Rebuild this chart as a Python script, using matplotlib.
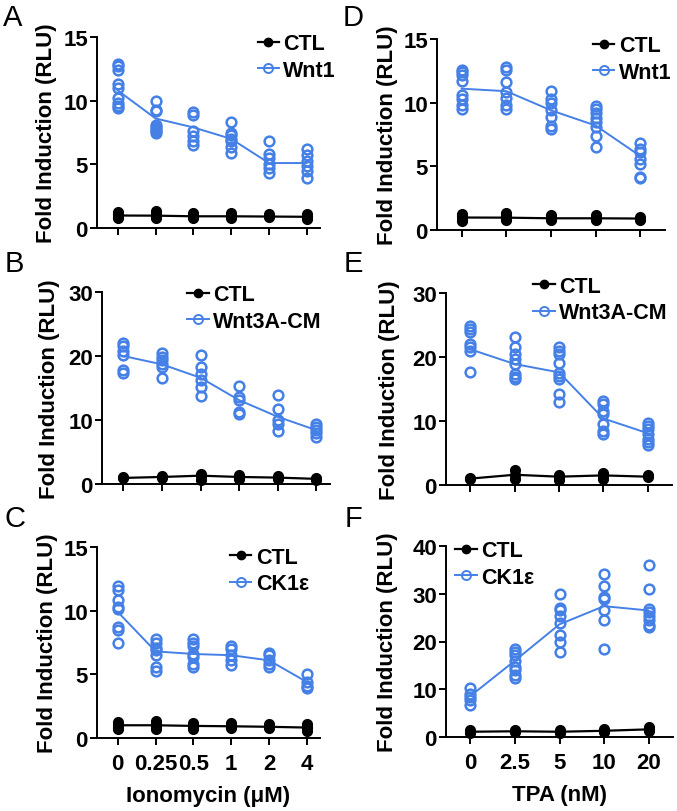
import matplotlib
matplotlib.use("Agg")
import matplotlib.pyplot as plt

plt.rcParams['font.family'] = ['Liberation Sans', 'DejaVu Sans']
plt.rcParams['font.weight'] = 'bold'

BLUE = '#4580e6'

iono_labels = ['0', '0.25', '0.5', '1', '2', '4']
tpa_labels = ['0', '2.5', '5', '10', '20']

# A: Wnt1 + ionomycin
a_wnt = [[12.9, 12.7, 12.4, 11.3, 11.0, 10.2, 9.8, 9.6, 9.4],
         [10.0, 9.3, 9.2, 8.1, 7.9, 7.8, 7.6, 7.5],
         [9.1, 8.9, 7.6, 7.2, 6.8, 6.5],
         [8.3, 7.5, 7.3, 7.0, 6.8, 6.4, 5.9],
         [6.8, 5.8, 5.5, 5.0, 4.7, 4.3],
         [6.2, 5.7, 5.3, 4.9, 4.5, 3.9]]
a_wnt_mean = [10.8, 8.6, 7.9, 7.0, 5.1, 5.1]
a_ctl = [[1.25, 1.1, 1.0, 0.85, 0.75],
         [1.3, 1.15, 1.0, 0.85, 0.75],
         [1.2, 1.05, 0.9, 0.75],
         [1.2, 1.0, 0.9, 0.8],
         [1.1, 0.95, 0.85],
         [1.1, 0.95, 0.8, 0.7]]
a_ctl_mean = [0.98, 0.97, 0.92, 0.92, 0.9, 0.88]

# B: Wnt3A-CM + ionomycin
b_wnt = [[22.1, 21.6, 20.8, 20.2, 17.8, 17.4],
         [20.4, 19.8, 19.3, 18.8, 18.3, 16.6],
         [20.2, 18.3, 17.2, 16.2, 15.2, 13.8],
         [15.3, 13.6, 13.2, 11.3, 10.9],
         [13.9, 11.7, 10.0, 9.4, 8.3],
         [9.3, 8.9, 8.4, 7.9, 7.3]]
b_wnt_mean = [20.0, 18.7, 16.6, 13.1, 10.5, 8.4]
b_ctl = [[1.1, 0.9],
         [1.3, 1.0],
         [1.6, 1.2, 0.7],
         [1.4, 1.0, 0.8],
         [1.3, 1.0, 0.8],
         [1.0, 0.8, 0.6]]
b_ctl_mean = [0.95, 1.1, 1.3, 1.1, 1.0, 0.8]

# C: CK1e + ionomycin
c_wnt = [[11.9, 11.6, 10.8, 10.3, 10.1, 8.7, 8.5, 7.5],
         [7.8, 7.5, 7.1, 6.9, 6.5, 5.6, 5.3],
         [7.8, 7.5, 7.2, 6.6, 6.35, 5.8, 5.6],
         [7.2, 7.0, 6.5, 6.1, 5.7],
         [6.7, 6.5, 6.1, 5.8, 5.6],
         [5.0, 4.4, 4.1, 3.9]]
c_wnt_mean = [9.9, 6.8, 6.6, 6.5, 6.1, 4.4]
c_ctl = [[1.25, 1.1, 0.95, 0.8, 0.7],
         [1.3, 1.1, 0.95, 0.8, 0.7],
         [1.2, 1.0, 0.85, 0.7],
         [1.15, 1.0, 0.85, 0.75],
         [1.1, 0.9, 0.75],
         [1.1, 0.9, 0.75, 0.55]]
c_ctl_mean = [1.0, 1.0, 0.95, 0.92, 0.88, 0.82]

# D: Wnt1 + TPA
d_wnt = [[12.6, 12.4, 12.2, 11.7, 10.6, 10.3, 9.8, 9.5],
         [12.8, 12.6, 11.6, 10.8, 10.4, 9.8, 9.5],
         [10.9, 10.3, 10.0, 9.4, 8.9, 8.2, 7.9],
         [9.7, 9.5, 9.2, 8.8, 8.5, 8.1, 7.4, 6.5],
         [6.8, 6.4, 6.1, 5.6, 5.2, 4.2, 4.1]]
d_wnt_mean = [11.1, 10.9, 9.4, 8.2, 5.8]
d_ctl = [[1.25, 1.1, 0.95, 0.8, 0.7],
         [1.3, 1.15, 1.0, 0.85, 0.75],
         [1.2, 1.0, 0.85, 0.75],
         [1.15, 1.0, 0.85, 0.75],
         [1.05, 0.9, 0.8]]
d_ctl_mean = [0.98, 0.97, 0.92, 0.92, 0.9]

# E: Wnt3A-CM + TPA
e_wnt = [[24.9, 24.4, 23.9, 22.1, 21.5, 21.0, 17.6],
         [23.2, 21.5, 20.5, 19.7, 18.9, 17.4, 16.8, 16.6],
         [21.5, 21.0, 20.5, 19.1, 17.5, 17.1, 16.6, 14.2, 12.9],
         [13.2, 12.7, 11.6, 11.1, 9.5, 8.5, 7.9],
         [9.7, 9.2, 8.7, 8.0, 7.2, 6.7, 6.3]]
e_wnt_mean = [21.2, 18.9, 17.6, 10.4, 8.1]
e_ctl = [[1.1, 0.9],
         [2.3, 1.6, 1.0],
         [1.6, 1.2, 0.8],
         [1.8, 1.4, 1.0],
         [1.5, 1.2]]
e_ctl_mean = [1.0, 1.6, 1.3, 1.5, 1.3]

# F: CK1e + TPA
f_wnt = [[10.3, 9.1, 8.4, 7.7, 6.6],
         [18.5, 17.9, 17.2, 16.0, 14.6, 14.0, 12.9, 12.3],
         [30.0, 27.1, 26.5, 25.3, 23.9, 21.4, 20.0, 17.9],
         [34.2, 31.7, 29.3, 28.8, 26.5, 24.6, 18.4],
         [36.1, 30.9, 26.9, 26.2, 25.3, 24.4, 23.4, 23.0]]
f_wnt_mean = [8.6, 16.0, 23.6, 27.4, 26.5]
f_ctl = [[1.4, 1.1, 0.9],
         [1.5, 1.2, 1.0],
         [1.4, 1.1, 0.9],
         [1.6, 1.3, 1.1],
         [2.0, 1.6, 1.2]]
f_ctl_mean = [1.1, 1.2, 1.1, 1.3, 1.6]

panels = [
    # letter, rect(px: left, top, right, bottom), wnt, wnt mean, ctl, ctl mean, name, ymax, ystep,
    # xlabels, xlabel, legend anchor, ylabel x (px)
    ('A', (97, 38, 320, 229), a_wnt, a_wnt_mean, a_ctl, a_ctl_mean, 'Wnt1', 15, 5, iono_labels, None, (0.72, 1.02), 47),
    ('B', (102, 293, 330, 485), b_wnt, b_wnt_mean, b_ctl, b_ctl_mean, 'Wnt3A-CM', 30, 10, iono_labels, None, (0.373, 1.04), 50),
    ('C', (97, 548, 320, 739), c_wnt, c_wnt_mean, c_ctl, c_ctl_mean, 'CK1\u03b5', 15, 5, iono_labels, 'Ionomycin (\u03bcM)', (0.596, 1.0), 48),
    ('D', (437, 40, 665, 231), d_wnt, d_wnt_mean, d_ctl, d_ctl_mean, 'Wnt1', 15, 5, tpa_labels, None, (0.684, 1.02), 387),
    ('E', (446, 294, 672, 486), e_wnt, e_wnt_mean, e_ctl, e_ctl_mean, 'Wnt3A-CM', 30, 10, tpa_labels, None, (0.385, 1.09), 390),
    ('F', (446, 547, 673, 738), f_wnt, f_wnt_mean, f_ctl, f_ctl_mean, 'CK1\u03b5', 40, 10, tpa_labels, 'TPA (nM)', (0.04, 1.03), 388),
]
letter_pos = {'A': (3, 4), 'B': (5, 250), 'C': (5, 505), 'D': (343, 4), 'E': (344, 250), 'F': (345, 505)}

W, H = 677, 812
fig = plt.figure(figsize=(W / 100, H / 100), dpi=100)

for letter, (l, t, r, b), wnt, wmean, ctl, cmean, name, ymax, ystep, xlabs, xlabel, lanchor, ylx in panels:
    ax = fig.add_axes([l / W, 1 - b / H, (r - l) / W, (b - t) / H])
    n = len(xlabs)
    xs = list(range(n))
    # control
    ax.plot(xs, cmean, color='black', lw=1.6, zorder=3, clip_on=False)
    for i, vals in enumerate(ctl):
        ax.plot([i] * len(vals), vals, 'o', color='black', ms=7, zorder=4, clip_on=False)
    # treatment
    ax.plot(xs, wmean, color=BLUE, lw=1.4, zorder=3, clip_on=False)
    for i, vals in enumerate(wnt):
        ax.plot([i] * len(vals), vals, 'o', mfc='none', mec=BLUE, mew=1.8, ms=7, zorder=4, clip_on=False)
    # legend proxies
    h1, = ax.plot([], [], '-o', color='black', lw=1.6, ms=6)
    h2, = ax.plot([], [], '-o', color=BLUE, mfc='none', mec=BLUE, mew=1.4, lw=1.4, ms=6.5)
    ax.legend([h1, h2], ['CTL', name], loc='upper left', bbox_to_anchor=lanchor,
              frameon=False, borderpad=0, borderaxespad=0, handlelength=1.0,
              handletextpad=0.2, labelspacing=0.25, prop={'size': 15.5, 'weight': 'bold'})

    ax.set_ylim(0, ymax)
    ax.set_yticks(range(0, ymax + 1, ystep))
    if n == 6:
        ax.set_xlim(-0.55, 5.35)
    else:
        ax.set_xlim(-0.55, 4.55)
    ax.set_xticks(xs)
    if xlabel:
        ax.set_xticklabels(xlabs)
        ax.set_xlabel(xlabel, fontsize=16, fontweight='bold', labelpad=8)
    else:
        ax.set_xticklabels([])
    for s in ['top', 'right']:
        ax.spines[s].set_visible(False)
    for s in ['left', 'bottom']:
        ax.spines[s].set_linewidth(1.4)
    ax.tick_params(axis='both', width=1.4, length=5, labelsize=16)
    ax.tick_params(axis='y', pad=1.5)
    ax.tick_params(axis='x', pad=6)
    ax.set_ylabel('Fold Induction (RLU)', fontsize=16, fontweight='bold', va='center')
    ax.yaxis.set_label_coords((ylx - l) / (r - l), 0.5)

    lx, ly = letter_pos[letter]
    fig.text(lx / W, 1 - ly / H, letter, fontsize=21, fontweight='normal', ha='left', va='top')

fig.savefig('out.png', dpi=100)
